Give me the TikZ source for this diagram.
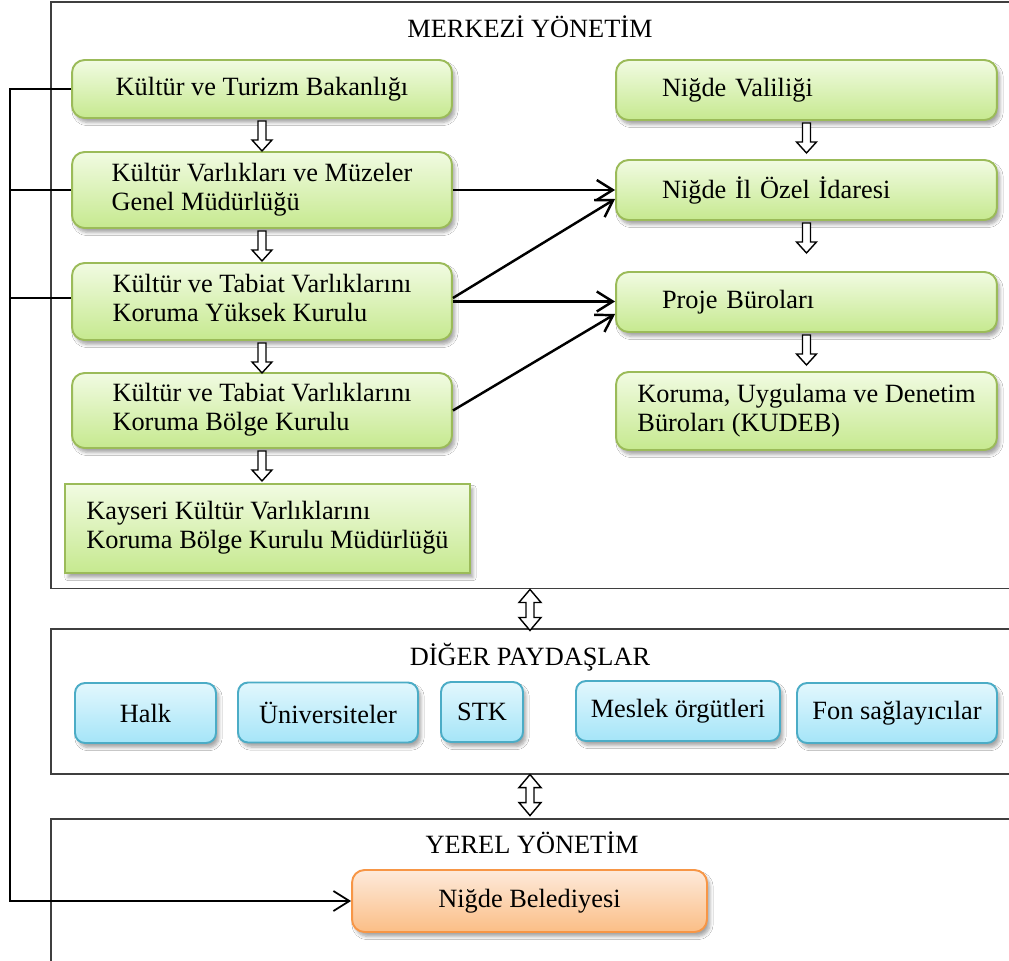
\documentclass[tikz,border=0pt]{standalone}
\usepackage{fontspec}
\setmainfont{Liberation Serif}
\usepackage{tikz}
\usetikzlibrary{arrows.meta,shadows.blur,calc}

\definecolor{gborder}{HTML}{9BBB59}
\definecolor{gtop}{HTML}{F1FBE2}
\definecolor{gbot}{HTML}{C6E98F}
\definecolor{bborder}{HTML}{4BACC6}
\definecolor{btop}{HTML}{E2F7FD}
\definecolor{bbot}{HTML}{A5E5F8}
\definecolor{oborder}{HTML}{F79646}
\definecolor{otop}{HTML}{FDEADB}
\definecolor{obot}{HTML}{FBBE86}
\definecolor{framegray}{HTML}{3F3F3F}

\tikzset{
  secframe/.style={rectangle,draw=framegray,line width=0.9pt,fill=white,anchor=north west,inner sep=0pt},
  shadowed/.style={blur shadow={shadow xshift=0.6mm,shadow yshift=-0.9mm,shadow opacity=35,shadow blur steps=6}},
  gbox/.style={rectangle,draw=gborder,line width=1.1pt,rounded corners=0.25cm,top color=gtop,bottom color=gbot,shadowed,minimum width=7.6cm,inner sep=0pt},
  nbox/.style={gbox,minimum width=7.62cm,text width=5.78cm,align=left,inner xsep=0.92cm},
  bbox/.style={rectangle,draw=bborder,line width=1.1pt,rounded corners=0.2cm,top color=btop,bottom color=bbot,shadowed,minimum height=1.2cm,inner sep=0pt},
  obox/.style={rectangle,draw=oborder,line width=1.1pt,rounded corners=0.25cm,top color=otop,bottom color=obot,shadowed,inner sep=0pt},
  conn/.style={line width=1.4pt,-{Straight Barb[length=3.2mm,width=4mm]}},
  lline/.style={line width=1pt},
  blockline/.style={draw=black,line width=0.8pt,fill=white,line join=miter},
  downarr/.pic={\path[blockline] (-4,2) -- (4,2) -- (4,21) -- (10,21) -- (0,32) -- (-10,21) -- (-4,21) -- cycle;},
  dblarr/.pic={\path[blockline] (0,0) -- (11,13) -- (4,13) -- (4,28) -- (11,28) -- (0,41) -- (-11,28) -- (-4,28) -- (-4,13) -- (-11,13) -- cycle;}
}

\begin{document}
\begin{tikzpicture}[x=0.02cm,y=-0.02cm,thick,font=\fontsize{15}{16.5}\selectfont]

\useasboundingbox (0,0) rectangle (1009,961);
\clip (0,0) rectangle (1009,961);

% sections
\node (mrk) at (50,1) [secframe,minimum width=20cm,minimum height=11.74cm] {};
\node (dgr) at (50,628) [secframe,minimum width=20cm,minimum height=2.9cm] {};
\node (yrl) at (50,818) [secframe,minimum width=20cm,minimum height=4cm] {};

\node (mrkt) at (530,27) {MERKEZİ YÖNETİM};
\node (dgrt) at (530,657) {DİĞER PAYDAŞLAR};
\node (yrlt) at (532,843) {YEREL YÖNETİM};

% merkezi yonetim, left column
\node (kb) at (262,89) [gbox,minimum height=1.16cm] {Kültür ve Turizm Bakanlığı};

\node (kvm) at (262,190) [gbox,minimum height=1.52cm] {\begin{tabular}{l}Kültür Varlıkları ve Müzeler\\Genel Müdürlüğü\end{tabular}};

\node (kyk) at (262,301.5) [gbox,minimum height=1.54cm] {\begin{tabular}{l}Kültür ve Tabiat Varlıklarını\\Koruma Yüksek Kurulu\end{tabular}};

\node (kbk) at (262,410.5) [gbox,minimum height=1.5cm] {\begin{tabular}{l}Kültür ve Tabiat Varlıklarını\\Koruma Bölge Kurulu\end{tabular}};

\node (kay) at (267.5,528.5) [gbox,sharp corners,minimum width=8.1cm,minimum height=1.78cm] {\begin{tabular}{l}Kayseri Kültür Varlıklarını\\Koruma Bölge Kurulu Müdürlüğü\end{tabular}};

% merkezi yonetim, right column
\node (nv) at (806.5,90) [nbox,minimum height=1.2cm] {Niğde Valiliği};
\node (nio) at (806.5,190) [nbox,minimum height=1.2cm] {Niğde İl Özel İdaresi};
\node (pb) at (806.5,302) [nbox,minimum height=1.2cm] {Proje Büroları};
\node (kud) at (806.5,411) [gbox,minimum width=7.62cm,minimum height=1.56cm] {\begin{tabular}{l}Koruma, Uygulama ve Denetim\\Büroları (KUDEB)\end{tabular}};

% diger paydaslar
\node (halk) at (145.5,713) [bbox,minimum width=2.82cm] {\raisebox{-0.16cm}{Halk}};
\node (uni) at (328,712.5) [bbox,minimum width=3.6cm] {Üniversiteler};
\node (stk) at (482,712) [bbox,minimum width=1.64cm] {STK};
\node (mo) at (678,711) [bbox,minimum width=4.08cm] {Meslek örgütleri};
\node (fon) at (897,713) [bbox,minimum width=4cm] {Fon sağlayıcılar};

% yerel yonetim
\node (nb) at (529.5,901) [obox,minimum width=7.1cm,minimum height=1.24cm] {Niğde Belediyesi};

% block arrows
\pic at (kb.south) {downarr};
\pic at (kvm.south) {downarr};
\pic at (kyk.south) {downarr};
\pic at (kbk.south) {downarr};
\pic at (nv.south) {downarr};
\pic at (nio.south) {downarr};
\pic at (pb.south) {downarr};
\pic at (mrkt |- mrk.south) {dblarr};
\pic at (mrkt |- dgr.south) {dblarr};

% links between columns
\draw[conn] (kvm.east) -- (nio.west);
\draw[conn] ([yshift=0.07cm]kyk.east) -- ([yshift=-0.18cm]nio.west);
\draw[conn] (kyk.east) -- (kyk.east -| pb.west);
\draw[conn] (kbk.east) -- ([yshift=-0.24cm]pb.west);

% left line to belediye
\coordinate (lft) at (10,0);
\coordinate (kyw) at ([yshift=0.07cm]kyk.west);
\draw[lline,-{Straight Barb[length=3.2mm,width=4mm]}] (kb.west) -- (lft |- kb.west) |- (nb.west);
\draw[lline] (kvm.west) -- (lft |- kvm.west);
\draw[lline] (kyw) -- (lft |- kyw);

\end{tikzpicture}
\end{document}
